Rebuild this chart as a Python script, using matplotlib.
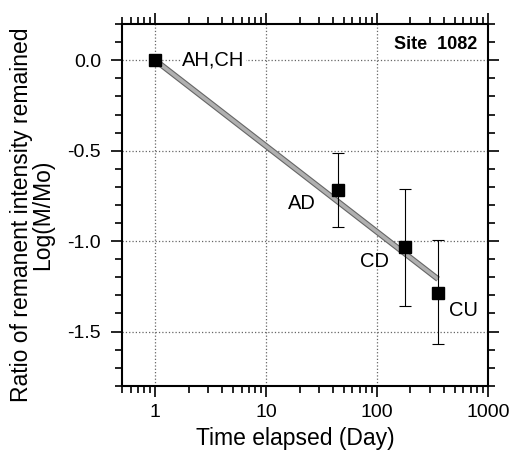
import matplotlib
matplotlib.use("Agg")
import matplotlib.pyplot as plt
import matplotlib.ticker as mtick
import numpy as np

plt.rcParams['font.family'] = ['Liberation Sans', 'DejaVu Sans']

# data
sites = ["AH,CH", "AD", "CD", "CU"]
days = np.array([1.0, 44.5, 178.0, 355.0])
logm = np.array([0.0, -0.715, -1.03, -1.285])
err_hi = np.array([0.0, -0.51, -0.71, -0.995])
err_lo = np.array([0.0, -0.92, -1.36, -1.57])

# fitted line ends
fit_x = np.array([1.0, 355.0])
fit_y = np.array([0.0, -1.21])

# label anchors
lab_x = [1.75, 28.0, 94.0, 446.0]
lab_y = [0.0, -0.79, -1.11, -1.385]
lab_ha = ["left", "right", "center", "left"]

fig = plt.figure(figsize=(5.12, 4.55), dpi=100)
ax = fig.add_axes([0.238, 0.152, 0.715, 0.795])

ax.plot(fit_x, fit_y, color='#666666', lw=4.2, solid_capstyle='butt', zorder=2)
ax.plot(fit_x, fit_y, color='#b0b0b0', lw=2.6, solid_capstyle='butt', zorder=2)

yerr = np.vstack((logm - err_lo, err_hi - logm))
ax.errorbar(days[1:], logm[1:], yerr=yerr[:, 1:], fmt='none', ecolor='black',
            elinewidth=0.8, capsize=4, capthick=0.8, zorder=3)
ax.plot(days, logm, 's', color='black', ms=8, zorder=4)

for i in range(len(sites)):
    ax.text(lab_x[i], lab_y[i], sites[i], ha=lab_ha[i], va='center', fontsize=14.5,
            zorder=5, bbox=dict(facecolor='white', edgecolor='none', pad=1) if i == 0 else None)

ax.text(0.97, 0.945, "Site  1082", transform=ax.transAxes, ha='right', va='center',
        fontsize=13, fontweight='bold')

ax.set_xscale('log')
ax.set_xlim(0.5, 1000)
ax.set_ylim(-1.8, 0.2)
ax.set_xticks([1, 10, 100, 1000])
ax.xaxis.set_major_formatter(mtick.FuncFormatter(lambda v, p: '%d' % v))
ax.xaxis.set_minor_locator(mtick.LogLocator(base=10, subs=np.arange(2, 10), numticks=20))
ax.xaxis.set_minor_formatter(mtick.NullFormatter())
ax.set_yticks([0.0, -0.5, -1.0, -1.5])
ax.yaxis.set_major_formatter(mtick.FormatStrFormatter('%.1f'))
ax.yaxis.set_minor_locator(mtick.MultipleLocator(0.1))

ax.tick_params(which='both', direction='out', top=True, right=True, labelsize=14, width=1.2)
ax.tick_params(which='major', length=8, pad=5)
ax.tick_params(which='minor', length=5)
ax.tick_params(axis='y', which='major', pad=7)
for s in ax.spines.values():
    s.set_linewidth(1.5)

ax.grid(True, which='major', linestyle=':', color='#666666', lw=0.9)
ax.set_axisbelow(True)

ax.set_xlabel("Time elapsed (Day)", fontsize=16.5)
ax.set_ylabel("Ratio of remanent intensity remained\nLog(M/Mo)", fontsize=16.5,
              linespacing=0.88)
ax.xaxis.set_label_coords(0.475, -0.115)
ax.yaxis.set_label_coords(-0.185, 0.472)

fig.savefig("out.png", dpi=100)
